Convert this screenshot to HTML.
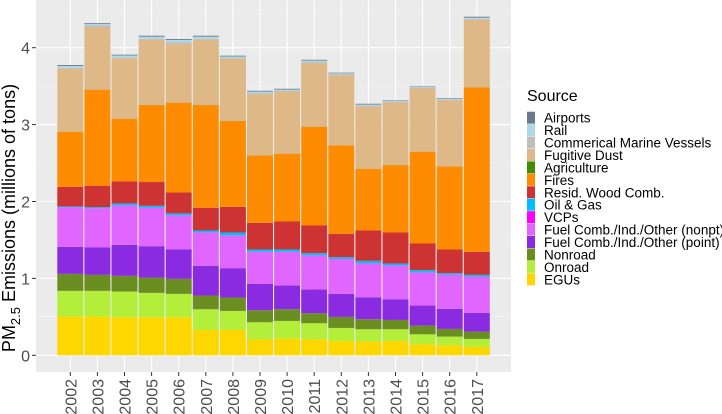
<!DOCTYPE html>
<html><head><meta charset="utf-8"><style>
body{margin:0;background:#fff;}
svg{display:block;font-family:"Liberation Sans",Arial,sans-serif;}
</style></head><body>
<svg id="chart" width="722" height="414">
<rect x="36" y="0" width="475" height="372" fill="#EBEBEB"/>
<g id="grid"></g><g id="bars"></g><g id="axes"></g><g id="legend"></g>
</svg>
<script>
const years=["2002","2003","2004","2005","2006","2007","2008","2009","2010","2011","2012","2013","2014","2015","2016","2017"];
const sources=["EGUs","Onroad","Nonroad","Fuel Comb./Ind./Other (point)","Fuel Comb./Ind./Other (nonpt)","VCPs","Oil & Gas","Resid. Wood Comb.","Fires","Agriculture","Fugitive Dust","Commerical Marine Vessels","Rail","Airports"];
const colors=["#FFD700","#B3EE3A","#6B8E23","#8A2BE2","#E066FF","#FF00FF","#00BFFF","#CD3333","#FF8C00","#458B00","#DEB887","#BEBEBE","#ADD8E6","#6C7B8B"];
const egus=[0.503,0.503,0.495,0.495,0.495,0.330,0.330,0.208,0.217,0.208,0.187,0.178,0.187,0.143,0.130,0.109];
const onroad=[0.335,0.335,0.334,0.317,0.304,0.269,0.247,0.222,0.230,0.209,0.169,0.161,0.152,0.130,0.113,0.104];
const nonroad=[0.221,0.208,0.204,0.199,0.195,0.178,0.174,0.156,0.152,0.130,0.143,0.130,0.121,0.113,0.100,0.095];
const fuelPoint=[0.351,0.356,0.404,0.408,0.382,0.386,0.382,0.343,0.308,0.308,0.300,0.286,0.269,0.261,0.260,0.243];
const fuelNonpt=[0.513,0.508,0.512,0.499,0.443,0.434,0.425,0.416,0.438,0.443,0.451,0.439,0.439,0.429,0.443,0.469];
const vcps=[0.002,0.002,0.002,0.002,0.002,0.002,0.002,0.002,0.002,0.002,0.002,0.002,0.002,0.002,0.002,0.002];
const oilGas=[0.011,0.015,0.024,0.024,0.024,0.024,0.037,0.029,0.029,0.028,0.024,0.032,0.024,0.029,0.020,0.024];
const woodComb=[0.254,0.278,0.286,0.309,0.273,0.295,0.334,0.347,0.364,0.360,0.304,0.395,0.403,0.347,0.308,0.299];
const fires=[0.716,1.248,0.814,1.000,1.166,1.335,1.114,0.875,0.880,1.283,1.148,0.801,0.875,1.192,1.079,2.138];
const agriculture=[0.002,0.002,0.002,0.002,0.002,0.002,0.002,0.002,0.002,0.002,0.002,0.002,0.002,0.002,0.002,0.002];
const dust=[0.818,0.814,0.784,0.849,0.761,0.849,0.809,0.796,0.809,0.827,0.914,0.810,0.814,0.822,0.857,0.879];
const marine=[0.012,0.020,0.010,0.012,0.024,0.012,0.010,0.014,0.010,0.013,0.008,0.010,0.008,0.008,0.010,0.011];
const rail=[0.025,0.022,0.028,0.028,0.030,0.028,0.020,0.020,0.015,0.020,0.015,0.015,0.010,0.010,0.012,0.016];
const airports=[0.012,0.010,0.010,0.012,0.012,0.012,0.010,0.010,0.010,0.010,0.008,0.010,0.008,0.008,0.008,0.012];
const yTicks=[0,1,2,3,4];
const series=[egus,onroad,nonroad,fuelPoint,fuelNonpt,vcps,oilGas,woodComb,fires,agriculture,dust,marine,rail,airports];
const NS="http://www.w3.org/2000/svg";
const y0=355.3, yk=76.9;
function yScale(v){return y0-v*yk;}
function xScale(i){return 70.3+i*27.1;}
const bw=26;
function mk(tag,attrs,parent){const e=document.createElementNS(NS,tag);for(const k in attrs)e.setAttribute(k,attrs[k]);parent.appendChild(e);return e;}
const grid=document.getElementById('grid'),bars=document.getElementById('bars'),axes=document.getElementById('axes'),legend=document.getElementById('legend');
for(let v=0.5;v<=4.5;v+=1){const l=mk('line',{x1:36,x2:511,y1:yScale(v),y2:yScale(v),stroke:'#F5F5F5','stroke-width':0.6},grid);

}
yTicks.forEach(v=>{const l=mk('line',{x1:36,x2:511,y1:yScale(v),y2:yScale(v),stroke:'#fff','stroke-width':1.1},grid);


const t=mk('line',{x1:32,x2:36,y1:yScale(v),y2:yScale(v),stroke:'#333','stroke-width':1},axes);


const tx=mk('text',{x:30,y:yScale(v)+6,'text-anchor':'end','font-size':16,fill:'#4D4D4D'},axes);tx.textContent=v;

});
years.forEach((yr,i)=>{const cx=xScale(i);
const l=mk('line',{x1:cx,x2:cx,y1:0,y2:372,stroke:'#fff','stroke-width':1.1},grid);


let acc=0;
series.forEach((s,k)=>{const v=s[i];const r=mk('rect',{x:cx-bw/2,y:yScale(acc+v),width:bw,height:Math.max(0,v*yk),fill:colors[k]},bars);

acc+=v;});
const t=mk('line',{x1:cx,x2:cx,y1:372,y2:376,stroke:'#333','stroke-width':1},axes);


const tx=mk('text',{x:0,y:0,'text-anchor':'end','font-size':16,fill:'#4D4D4D',transform:`translate(${cx+6},379) rotate(-90)`},axes);tx.textContent=yr;

});
const yt=mk('text',{x:0,y:0,'text-anchor':'middle','font-size':18,fill:'#000',transform:'translate(15,218) rotate(-90)'},axes);


yt.innerHTML='PM<tspan font-size="13" dy="5">2.5</tspan><tspan dy="-5"> Emissions (millions of tons)</tspan>';
const lt=mk('text',{x:527,y:101,'font-size':16,fill:'#000'},legend);lt.textContent='Source';


for(let k=13;k>=0;k--){const row=13-k;const cy=117.7+row*12.43;
const r=mk('rect',{x:527,y:cy-6,width:8,height:12,fill:colors[k]},legend);


const t=mk('text',{x:544,y:cy+5,'font-size':13.5,fill:'#000'},legend);t.textContent=sources[k];

}
</script>
</body></html>
